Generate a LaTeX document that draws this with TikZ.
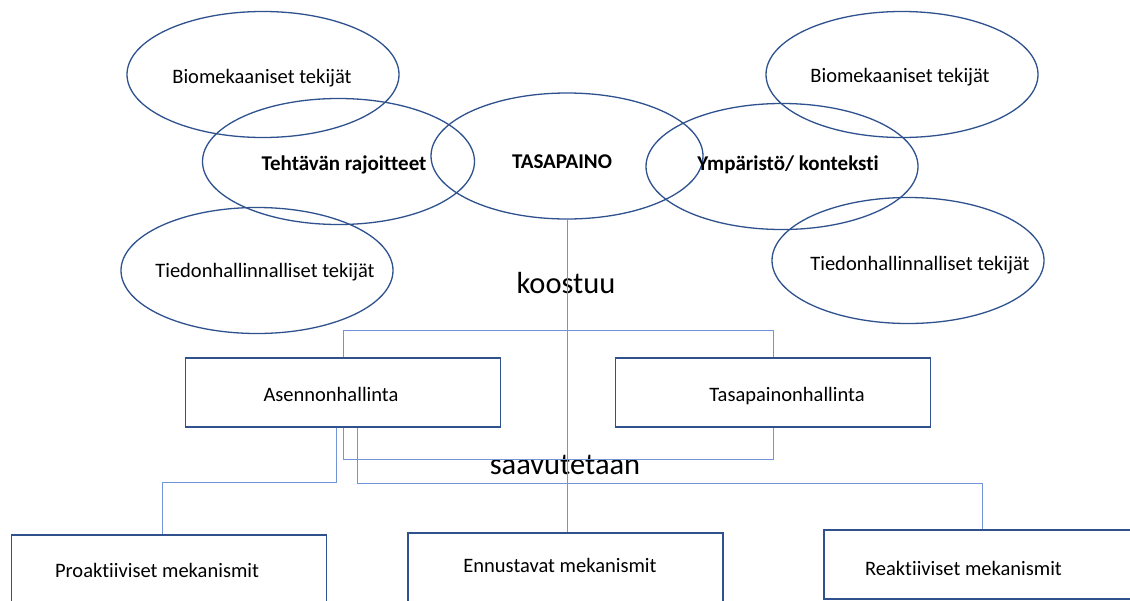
\documentclass[tikz,border=0pt]{standalone}
\usepackage{fontspec}
\setmainfont[Ligatures=NoCommon]{Carlito}
\usetikzlibrary{shapes.geometric}
\definecolor{edgec}{HTML}{2F528F}
\definecolor{connc}{HTML}{7494D8}
\begin{document}
\begin{tikzpicture}[x=1pt,y=-1pt,
  oval/.style={draw=edgec,line width=1.3pt,ellipse,minimum width=272pt,minimum height=126pt,inner sep=0pt},
  boxn/.style={draw=edgec,fill=white,line width=1.5pt,rectangle,minimum width=315pt,minimum height=69pt,inner sep=0pt},
  txt/.style={anchor=base,inner sep=0pt,font=\fontsize{20.5}{24}\selectfont},
  btxt/.style={anchor=base,inner sep=0pt,font=\fontsize{21}{24}\selectfont\bfseries},
  big/.style={anchor=base,inner sep=0pt,font=\fontsize{30.5}{36}\selectfont},
  conn/.style={draw=connc,line width=0.9pt}]
\useasboundingbox (0,0) rectangle (1130,600);
\clip (0,0) rectangle (1130,600);
\fill[white] (0,0) rectangle (1130,600);

% ellipses
\node[oval] (bioL) at (263,74.5) {};
\node[oval] (teht) at (338.5,161.5) {};
\node[oval] (tas) at (567,156) {};
\node[oval] (ymp) at (782,166.5) {};
\node[oval] (bioR) at (902,74.5) {};
\node[oval] (tiedL) at (257,270.5) {};
\node[oval] (tiedR) at (908,260.5) {};

% ellipse texts
\node[txt] (tbioL) at (262,83) {Biomekaaniset tekijät};
\node[btxt] (tteht) at (344,170) {Tehtävän rajoitteet};
\node[btxt] (ttas) at (562,168) {TASAPAINO};
\node[btxt] (tymp) at (788,170) {Ympäristö/ konteksti};
\node[txt] (tbioR) at (900,82) {Biomekaaniset tekijät};
\node[txt] (ttiedL) at (265,277) {Tiedonhallinnalliset tekijät};
\node[txt] (ttiedR) at (920,270) {Tiedonhallinnalliset tekijät};

% big labels
\node[big] (koo) at (566,293) {koostuu};
\node[big] (saa) at (565,474) {saavutetaan};

% boxes
\node[boxn] (asen) at (343,392.5) {};
\node[boxn] (tasp) at (773,392.5) {};
\node[boxn] (proa) at (169,569.5) {};
\node[boxn] (enn) at (565.5,567.5) {};
\node[boxn,minimum width=345pt] (reak) at (996.5,564.5) {};

% connectors
\draw[conn] (tas.south) -- (tas.south |- enn.north);
\draw[conn] (asen.north) -- ++(0,-27) -| (tasp.north);
\draw[conn] (asen.south) -- ++(0,32) -| (tasp.south);
\draw[conn] ([xshift=-7pt]asen.south) -- ++(0,55) -| ([xshift=-7pt]proa.north);
\draw[conn] ([xshift=14pt]asen.south) -- ++(0,56) -| ([xshift=-14pt]reak.north);

% box texts
\node[txt] (tasen) at (331,401) {Asennonhallinta};
\node[txt] (ttasp) at (787,401) {Tasapainonhallinta};
\node[txt] (tproa) at (157,577) {Proaktiiviset mekanismit};
\node[txt] (tenn) at (560,572) {Ennustavat mekanismit};
\node[txt] (treak) at (963.5,575) {Reaktiiviset mekanismit};
\end{tikzpicture}
\end{document}
